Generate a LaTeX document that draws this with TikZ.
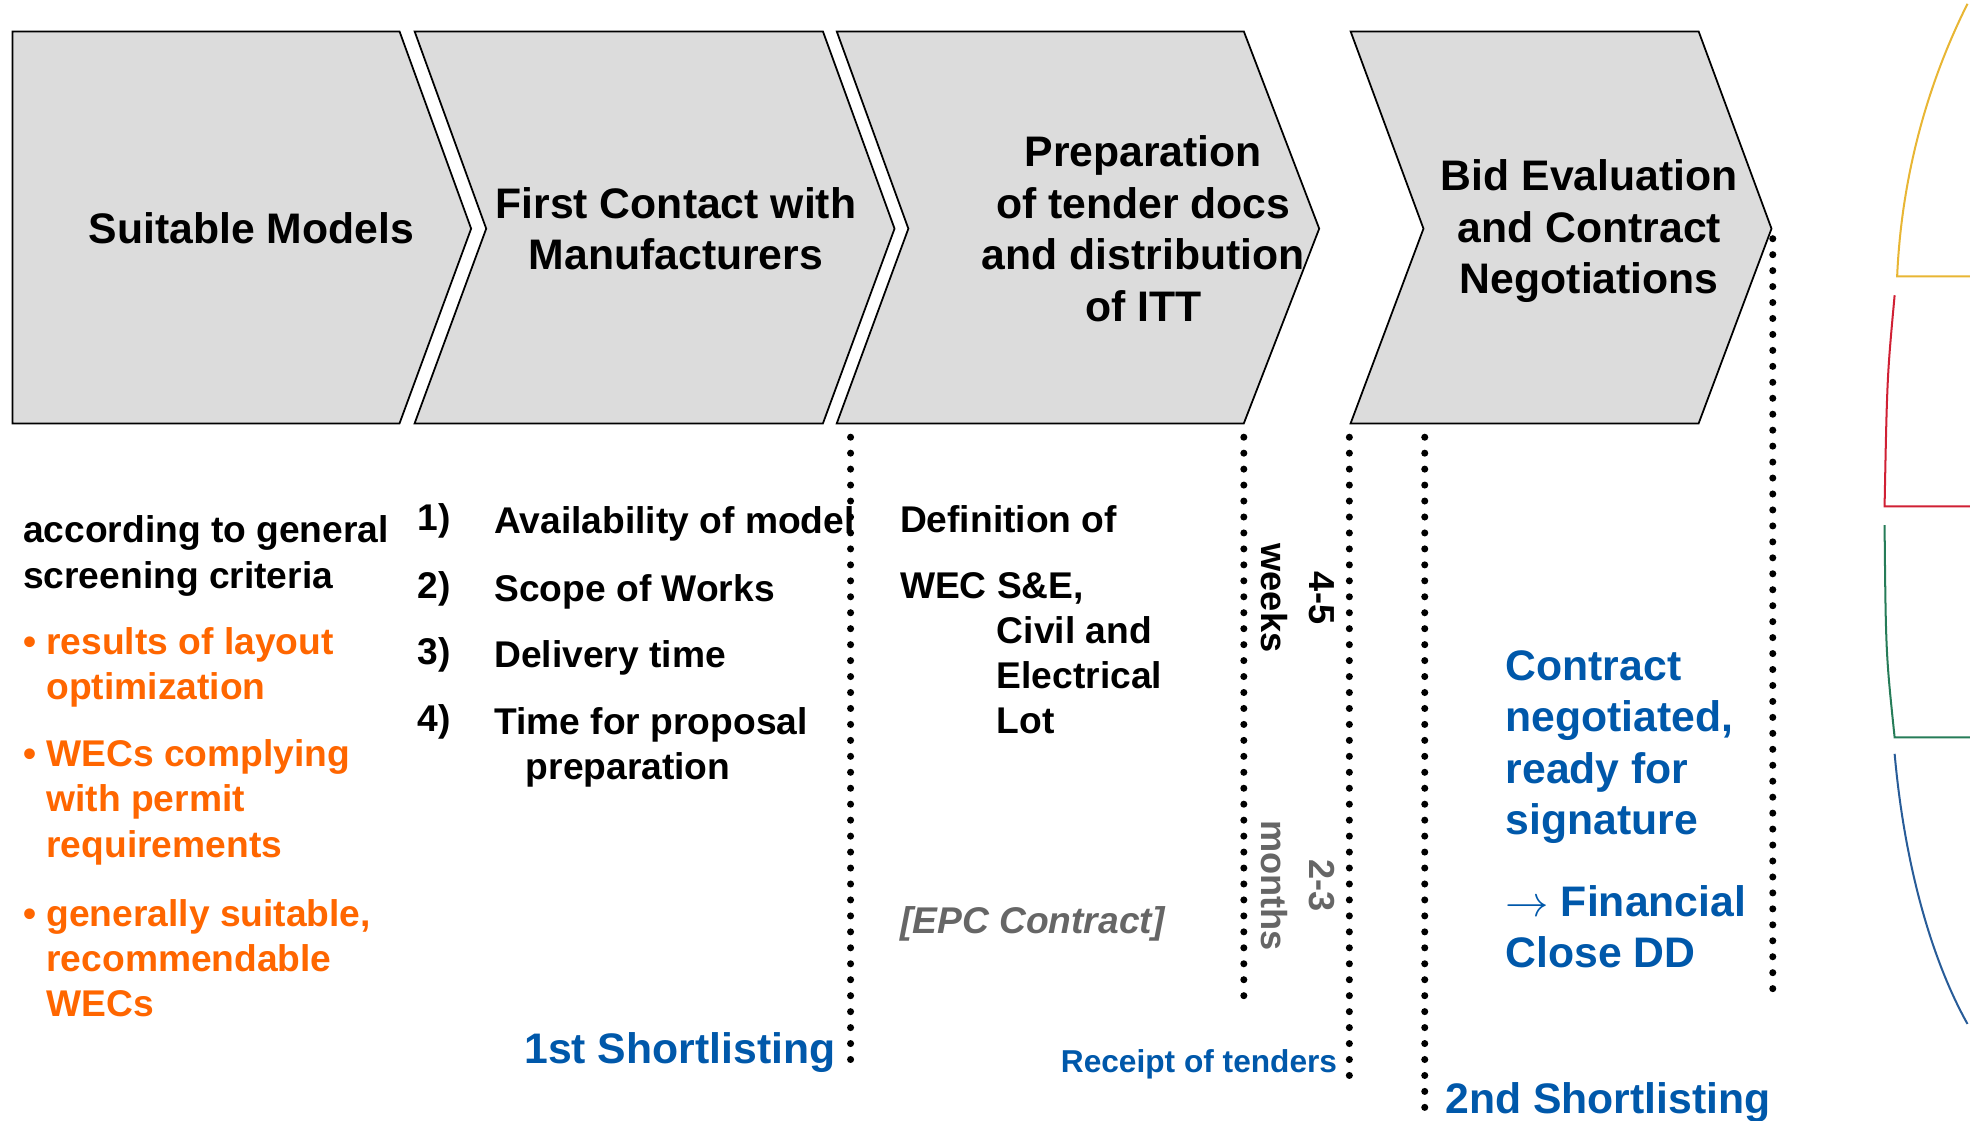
\documentclass[tikz,border=0pt]{standalone}
\usepackage{fontspec}
\setmainfont{Liberation Sans}
\usetikzlibrary{%
	positioning,%
}
\definecolor{cfill}{RGB}{220,220,220}
\definecolor{corange}{RGB}{255,102,0}
\definecolor{cblue}{RGB}{0,88,170}
\definecolor{cgray}{RGB}{102,102,102}
\definecolor{carcyellow}{RGB}{232,182,52}
\definecolor{carcred}{RGB}{208,32,52}
\definecolor{carcgreen}{RGB}{38,124,88}
\definecolor{carcblue}{RGB}{40,92,152}
\newcommand{\stagefont}{\fontsize{17}{20.5}\selectfont\bfseries}
\newcommand{\bodyfont}{\fontsize{14.8}{18}\selectfont\bfseries}
\newcommand{\turnfont}{\fontsize{14.4}{19}\selectfont\bfseries}
\newcommand{\bulletgap}{\hphantom{\textbullet\ }}
\tikzset{
	chev/.style={%
			draw,%
			fill=cfill,%
			line width=0.7pt},%
	stagetext/.style={%
			font=\stagefont,%
			align=center,%
			inner sep=0},%
	bodytext/.style={%
			font=\bodyfont,%
			align=left,%
			inner sep=0,%
			anchor=west,%
			yshift=-1.25pt},%
	bullettext/.style={%
			bodytext,%
			text=corange},%
	bluetext/.style={%
			font=\stagefont,%
			align=left,%
			inner sep=0,%
			anchor=west,%
			yshift=-1.25pt,%
			text=cblue},%
	turntext/.style={%
			font=\turnfont,%
			align=center,%
			inner sep=0,%
			rotate=-90},%
	sepline/.style={%
			line width=2.8pt,%
			line cap=round,%
			dash pattern=on 0pt off 6.35pt},%
	arcline/.style={%
			line width=0.8pt},%
}

\begin{document}
\begin{tikzpicture}[x=0.5pt, y=-0.5pt]
	\useasboundingbox (0,0) rectangle (1568,892);

	% the four stages
	\draw[chev] (10,25) -- (318,25) -- (375,182) -- (318,337) -- (10,337) -- cycle;
	\draw[chev] (330,25) -- (655,25) -- (712,182) -- (655,337) -- (330,337) -- (387,182) -- cycle;
	\draw[chev] (666,25) -- (990,25) -- (1050,182) -- (990,337) -- (666,337) -- (723,182) -- cycle;
	\draw[chev] (1075,25) -- (1352,25) -- (1410,182) -- (1352,337) -- (1075,337) -- (1133,182) -- cycle;

	\node[stagetext] (suitable) at (200,182) {Suitable Models};
	\node[stagetext] (contact) at (538,182) {First Contact with\\Manufacturers};
	\node[stagetext] (prep) at (910,182) {Preparation\\of tender docs\\and distribution\\of ITT};
	\node[stagetext] (bid) at (1265,184) {Bid Evaluation\\and Contract\\Negotiations};

	% screening
	\node[bodytext] (criteria) at (18,440) {according to general\\screening criteria};
	\node[bullettext] (layout) at (18,529) {\textbullet\ results of layout\\\bulletgap optimization};
	\node[bullettext] (permit) at (18,636) {\textbullet\ WECs complying\\\bulletgap with permit\\\bulletgap requirements};
	\node[bullettext] (recom) at (18,760) {\textbullet\ generally suitable,\\\bulletgap recommendable\\\bulletgap WECs};

	% first contact
	\node[bodytext] (n1) at (332,412) {1)};
	\node[bodytext] (n2) at (332,466) {2)};
	\node[bodytext] (n3) at (332,519) {3)};
	\node[bodytext] (n4) at (332,572) {4)};
	\node[bodytext] (avail) [right=17pt of n1] {Availability of model};
	\node[bodytext] (scope) [right=17pt of n2] {Scope of Works};
	\node[bodytext] (delivery) [right=17pt of n3] {Delivery time};
	\node[bodytext, anchor=north west] (proposal) at (n4.north east) [xshift=17pt] {Time for proposal\\\hspace*{12.5pt}preparation};
	\node[bluetext] (short1) at (417,835) {1st Shortlisting};

	% tender docs
	\node[bodytext] (definition) at (716,411) {Definition of};
	\node[bodytext] (wec) at (716,466) {WEC S\&E,};
	\node[bodytext] (lot) at (793,535) {Civil and\\Electrical\\Lot};
	\node[bodytext, text=cgray, font=\bodyfont\itshape] (epc) at (716,733) {[EPC Contract]};
	\node[turntext] (weeks) at (1033,476) {4-5\\weeks};
	\node[turntext, text=cgray] (months) at (1033,705) {2-3\\months};
	\node[bluetext, font=\fontsize{12.6}{15}\selectfont\bfseries] (receipt) at (844,845) {Receipt of tenders};

	% bid evaluation
	\node[bluetext] (negotiated) at (1198,592) {Contract\\negotiated,\\ready for\\signature};
	\node[bluetext] (close) at (1198,735) {$\rightarrow$ Financial\\Close DD};
	\node[bluetext] (short2) at (1150,875) {2nd Shortlisting};

	% separators
	\draw[sepline] (677,348) -- (677,848);
	\draw[sepline] (990,348) -- (990,797);
	\draw[sepline] (1074,348) -- (1074,860);
	\draw[sepline] (1134,348) -- (1134,890);
	\draw[sepline] (1411,190) -- (1411,795);

	% cut-off chart at the right edge
	\draw[arcline, carcyellow] (1566,3) .. controls (1530,75) and (1513,150) .. (1510,220) -- (1568,220);
	\draw[arcline, carcred] (1508,235) .. controls (1502,300) .. (1500,403) -- (1568,403);
	\draw[arcline, carcgreen] (1500,418) .. controls (1501,520) .. (1508,587) -- (1568,587);
	\draw[arcline, carcblue] (1508,600) .. controls (1516,690) and (1538,765) .. (1566,815);
\end{tikzpicture}
\end{document}
